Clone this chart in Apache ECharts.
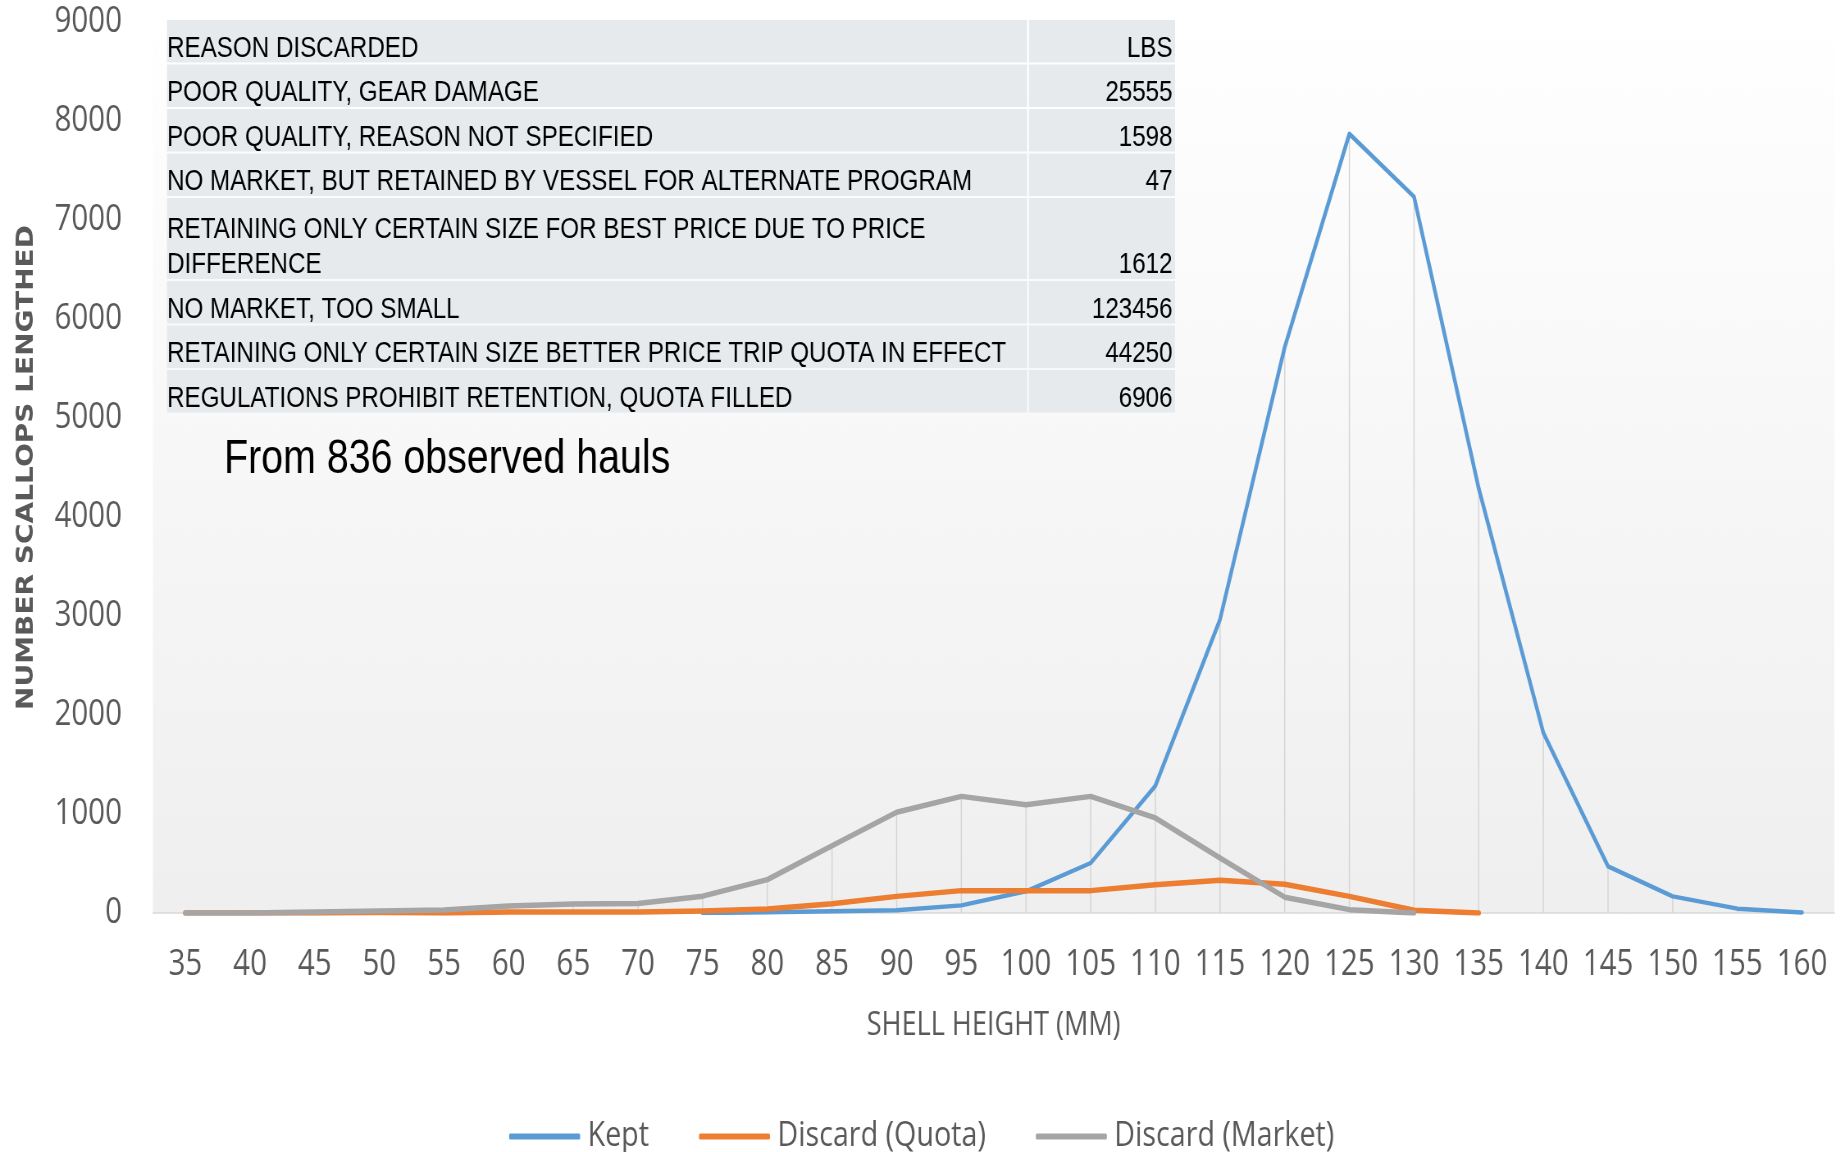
<!DOCTYPE html>
<html>
<head>
<meta charset="utf-8">
<script src="https://cdn.jsdelivr.net/npm/echarts@6/dist/echarts.min.js"></script>
<style>
html,body{margin:0;padding:0;background:#fff;overflow:hidden;width:1843px;height:1152px;}
#chart{width:2248px;height:1152px;transform:scaleX(0.82);transform-origin:0 0;}
</style>
</head>
<body>
<div id="chart"></div>
<script>
const categories = ['35','40','45','50','55','60','65','70','75','80','85','90','95','100','105','110','115','120','125','130','135','140','145','150','155','160'];
const kept = [null,null,null,null,null,null,null,null,0,7,17,27,77,219,505,1285,2965,5715,7870,7235,4290,1820,471,168,44,5];
const discardQuota = [0,0,0,5,0,10,10,10,20,40,94,168,226,226,226,286,330,290,168,27,0,null,null,null,null,null];
const discardMarket = [0,0,10,20,30,70,90,95,170,337,680,1017,1178,1094,1178,960,556,160,34,0,null,null,null,null,null,null];
const yTicks = [0,1000,2000,3000,4000,5000,6000,7000,8000,9000];
const seriesNames = ['Kept','Discard (Quota)','Discard (Market)'];
const seriesColors = ['#5b9bd5','#ed7d31','#a5a5a5'];

const tableReasons = [
  'REASON DISCARDED',
  'POOR QUALITY, GEAR DAMAGE',
  'POOR QUALITY, REASON NOT SPECIFIED',
  'NO MARKET, BUT RETAINED BY VESSEL FOR ALTERNATE PROGRAM',
  'RETAINING ONLY CERTAIN SIZE FOR BEST PRICE DUE TO PRICE\nDIFFERENCE',
  'NO MARKET, TOO SMALL',
  'RETAINING ONLY CERTAIN SIZE BETTER PRICE TRIP QUOTA IN EFFECT',
  'REGULATIONS PROHIBIT RETENTION, QUOTA FILLED'
];
const tableLbs = ['LBS','25555','1598','47','1612','123456','44250','6906'];
const noteText = 'From 836 observed hauls';

// the whole drawing is compressed horizontally (like the reference); K maps screen x to chart x
const K = 0.82;
const sx = v => v / K;
const ARIAL = "'Liberation Sans',Arial,sans-serif";
const LABEL = "'Open Sans','Noto Sans',sans-serif";

// drop lines: from the highest series value at each category down to the axis
const dropLines = categories.map((c, i) => {
  const vals = [kept[i], discardQuota[i], discardMarket[i]].filter(v => v != null);
  return vals.length ? Math.max.apply(null, vals) : null;
});

// table graphics
const tbl = { left: sx(167), divider: sx(1027), right: sx(1175), top: 20, rowH: 42.5, gap: 2, lineH: 35, font: 29.5 };
const graphics = [];
let y = tbl.top;
tableReasons.forEach((txt, i) => {
  const lines = txt.split('\n').length;
  const h = tbl.rowH + (lines - 1) * 38.5;
  graphics.push({ type: 'rect', silent: true, z: 10,
    shape: { x: tbl.left, y: y, width: tbl.divider - tbl.left, height: h },
    style: { fill: '#e6eaed' } });
  graphics.push({ type: 'rect', silent: true, z: 10,
    shape: { x: tbl.divider + sx(tbl.gap), y: y, width: tbl.right - tbl.divider - sx(tbl.gap), height: h },
    style: { fill: '#e6eaed' } });
  graphics.push({ type: 'text', silent: true, z: 11,
    style: { text: txt, x: tbl.left, y: y + h + 3.5,
      font: tbl.font + 'px ' + ARIAL, fill: '#000',
      lineHeight: tbl.lineH,
      align: 'left', verticalAlign: 'bottom', textAlign: 'left', textVerticalAlign: 'bottom' } });
  graphics.push({ type: 'text', silent: true, z: 11,
    style: { text: tableLbs[i], x: tbl.right - 3, y: y + h + 3.5,
      font: tbl.font + 'px ' + ARIAL, fill: '#000',
      lineHeight: tbl.lineH,
      align: 'right', verticalAlign: 'bottom', textAlign: 'right', textVerticalAlign: 'bottom' } });
  y += h + tbl.gap;
});
graphics.push({ type: 'text', silent: true, z: 11,
  style: { text: noteText, x: sx(224), y: 460,
    font: '48px ' + ARIAL, fill: '#000',
    align: 'left', verticalAlign: 'middle', textAlign: 'left', textVerticalAlign: 'middle' } });

const chart = echarts.init(document.getElementById('chart'), null, { renderer: 'canvas' });
chart.setOption({
  animation: false,
  backgroundColor: '#ffffff',
  grid: {
    left: sx(153), right: sx(9), top: 22, bottom: 239,
    show: true, borderWidth: 0,
    backgroundColor: new echarts.graphic.LinearGradient(0, 0, 0, 1, [
      { offset: 0, color: '#ffffff' },
      { offset: 1, color: '#efefef' }
    ])
  },
  legend: {
    data: seriesNames,
    left: 'center', top: 1114,
    itemWidth: sx(71), itemHeight: 6, itemGap: sx(50),
    icon: 'roundRect',
    textStyle: { fontFamily: LABEL, fontSize: 35, color: '#595959', padding: [0, 0, 0, 4] }
  },
  xAxis: {
    type: 'category',
    data: categories,
    boundaryGap: true,
    name: 'SHELL HEIGHT (MM)',
    nameLocation: 'middle',
    nameGap: 96,
    nameTextStyle: { fontFamily: LABEL, fontSize: 33, color: '#595959' },
    axisLine: { show: true, lineStyle: { color: '#d9d9d9', width: 1.5 } },
    axisTick: { show: false },
    axisLabel: { fontFamily: LABEL, fontSize: 36, color: '#595959', margin: 34, interval: 0 },
    splitLine: { show: false }
  },
  yAxis: {
    type: 'value',
    min: 0, max: 9000, interval: 1000,
    name: 'NUMBER SCALLOPS LENGTHED',
    nameLocation: 'middle',
    nameGap: 140,
    nameTextStyle: { fontFamily: "'DejaVu Sans',sans-serif", fontWeight: 'bold', fontSize: 28, color: '#595959' },
    axisLine: { show: false },
    axisTick: { show: false },
    splitLine: { show: false },
    axisLabel: { fontFamily: LABEL, fontSize: 36, color: '#595959', margin: sx(31),
      formatter: v => yTicks.indexOf(v) >= 0 ? String(v) : '' }
  },
  graphic: graphics,
  series: [
    { name: '_drop', type: 'bar', data: dropLines, barWidth: 1.4, silent: true, z: 1,
      itemStyle: { color: '#d4d4d4' }, legendHoverLink: false },
    { name: seriesNames[0], type: 'line', data: kept, showSymbol: false, symbol: 'none', z: 3,
      lineStyle: { color: seriesColors[0], width: 4.5, cap: 'round', join: 'round' }, itemStyle: { color: seriesColors[0] } },
    { name: seriesNames[1], type: 'line', data: discardQuota, showSymbol: false, symbol: 'none', z: 3,
      lineStyle: { color: seriesColors[1], width: 5.5, cap: 'round', join: 'round' }, itemStyle: { color: seriesColors[1] } },
    { name: seriesNames[2], type: 'line', data: discardMarket, showSymbol: false, symbol: 'none', z: 3,
      lineStyle: { color: seriesColors[2], width: 5.5, cap: 'round', join: 'round' }, itemStyle: { color: seriesColors[2] } }
  ]
});
</script>
</body>
</html>
